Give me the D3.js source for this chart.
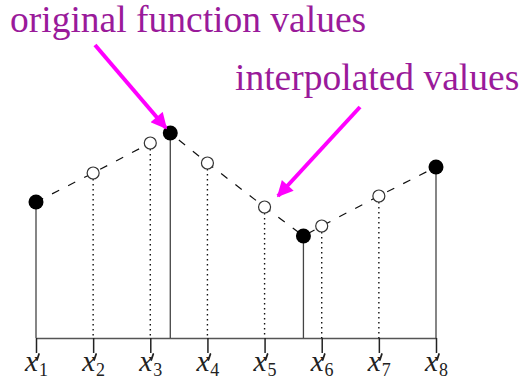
<!DOCTYPE html>
<html>
<head>
<meta charset="utf-8">
<script src="https://cdn.jsdelivr.net/npm/d3@7"></script>
<style>
  body { margin: 0; background: #fff; }
  svg { display: block; }
</style>
</head>
<body>
<svg></svg>
<script>
//constants
const W = 530, H = 385;
const margin = {top: 0, right: 94, bottom: 47, left: 36};

//data
const tickIdx = [1, 2, 3, 4, 5, 6, 7, 8];
const origX = [1, 3.35, 5.68, 8];
const origY = [1.36, 2.05, 1.02, 1.71];
const interpX = [2, 3, 4, 5, 6, 7];
const interpY = [1.65, 1.95, 1.75, 1.31, 1.12, 1.42];
const labelTop = "original function values";
const labelMid = "interpolated values";

//scales
const xScale = d3.scaleLinear().domain([1, 8]).range([margin.left, W - margin.right]);
const yScale = d3.scaleLinear().domain([0, 2]).range([H - margin.bottom, H - margin.bottom - 200]);
const y0 = yScale(0);

const svg = d3.select("svg").attr("width", W).attr("height", H);

const orig = origX.map((x, i) => ({x: x, y: origY[i]}));
const interp = interpX.map((x, i) => ({x: x, y: interpY[i]}));
const all = orig.concat(interp).sort((a, b) => a.x - b.x);

//axis
const xAxis = d3.axisBottom(xScale)
    .tickValues(tickIdx)
    .tickSize(15)
    .tickSizeOuter(0)
    .tickFormat("");

const ax = svg.append("g")
    .attr("transform", "translate(0," + y0 + ")")
    .call(xAxis);
ax.select(".domain").attr("stroke", "#555").attr("stroke-width", 1.3);
ax.selectAll(".tick line").attr("stroke", "#222").attr("stroke-width", 1.5);

//tick labels  x'_i
const labG = svg.append("g")
    .selectAll("g")
    .data(tickIdx)
    .join("g")
    .attr("transform", d => "translate(" + xScale(d) + "," + (y0 + 33) + ")");

const lab = labG.append("text")
    .attr("x", -11)
    .style("font-family", "'Liberation Serif', 'DejaVu Serif', serif")
    .style("font-size", "29px")
    .attr("fill", "#222");
lab.append("tspan").style("font-style", "italic").text("x");
lab.append("tspan").attr("dy", 5).attr("dx", 1).style("font-size", "18px").text(d => d);

// prime
labG.append("line")
    .attr("x1", 3).attr("y1", -17)
    .attr("x2", 1).attr("y2", -11)
    .attr("stroke", "#222")
    .attr("stroke-width", 1.8)
    .attr("stroke-linecap", "round");

//stems
svg.append("g")
    .selectAll("line")
    .data(orig)
    .join("line")
    .attr("x1", d => xScale(d.x)).attr("x2", d => xScale(d.x))
    .attr("y1", d => yScale(d.y)).attr("y2", y0)
    .attr("stroke", "#444")
    .attr("stroke-width", 1.3);

svg.append("g")
    .selectAll("line")
    .data(interp)
    .join("line")
    .attr("x1", d => xScale(d.x)).attr("x2", d => xScale(d.x))
    .attr("y1", d => yScale(d.y) + 6).attr("y2", y0)
    .attr("stroke", "#111")
    .attr("stroke-width", 1.4)
    .attr("stroke-dasharray", "1.5,3.5");

//dashed curve
svg.append("path")
    .datum(all)
    .attr("fill", "none")
    .attr("stroke", "#111")
    .attr("stroke-width", 1.2)
    .attr("stroke-dasharray", "8,10")
    .attr("d", d3.line()
        .x(d => xScale(d.x))
        .y(d => yScale(d.y)));

//markers
svg.append("g")
    .selectAll("circle")
    .data(interp)
    .join("circle")
    .attr("cx", d => xScale(d.x))
    .attr("cy", d => yScale(d.y))
    .attr("r", 6)
    .attr("fill", "#fff")
    .attr("stroke", "#333")
    .attr("stroke-width", 1.2);

svg.append("g")
    .selectAll("circle")
    .data(orig)
    .join("circle")
    .attr("cx", d => xScale(d.x))
    .attr("cy", d => yScale(d.y))
    .attr("r", 7.5)
    .attr("fill", "#000");

//annotations
const defs = svg.append("defs");
defs.append("marker")
    .attr("id", "head")
    .attr("viewBox", "0 0 10 10")
    .attr("refX", 9).attr("refY", 5)
    .attr("markerWidth", 4.5).attr("markerHeight", 4)
    .attr("orient", "auto")
    .append("path")
    .attr("d", "M0,0L10,5L0,10Z")
    .attr("fill", "#ff00ff");

svg.append("line")
    .attr("x1", 95).attr("y1", 45)
    .attr("x2", 166).attr("y2", 128)
    .attr("stroke", "#ff00ff")
    .attr("stroke-width", 4)
    .attr("marker-end", "url(#head)");

svg.append("line")
    .attr("x1", 360).attr("y1", 107)
    .attr("x2", 278).attr("y2", 196)
    .attr("stroke", "#ff00ff")
    .attr("stroke-width", 4)
    .attr("marker-end", "url(#head)");

svg.append("text")
    .attr("x", 10).attr("y", 32)
    .style("font-family", "'Liberation Serif', serif")
    .style("font-size", "37.5px")
    .attr("fill", "#9a1a9a")
    .text(labelTop);

svg.append("text")
    .attr("x", 235).attr("y", 90)
    .style("font-family", "'Liberation Serif', serif")
    .style("font-size", "37.5px")
    .attr("fill", "#9a1a9a")
    .text(labelMid);
</script>
</body>
</html>
